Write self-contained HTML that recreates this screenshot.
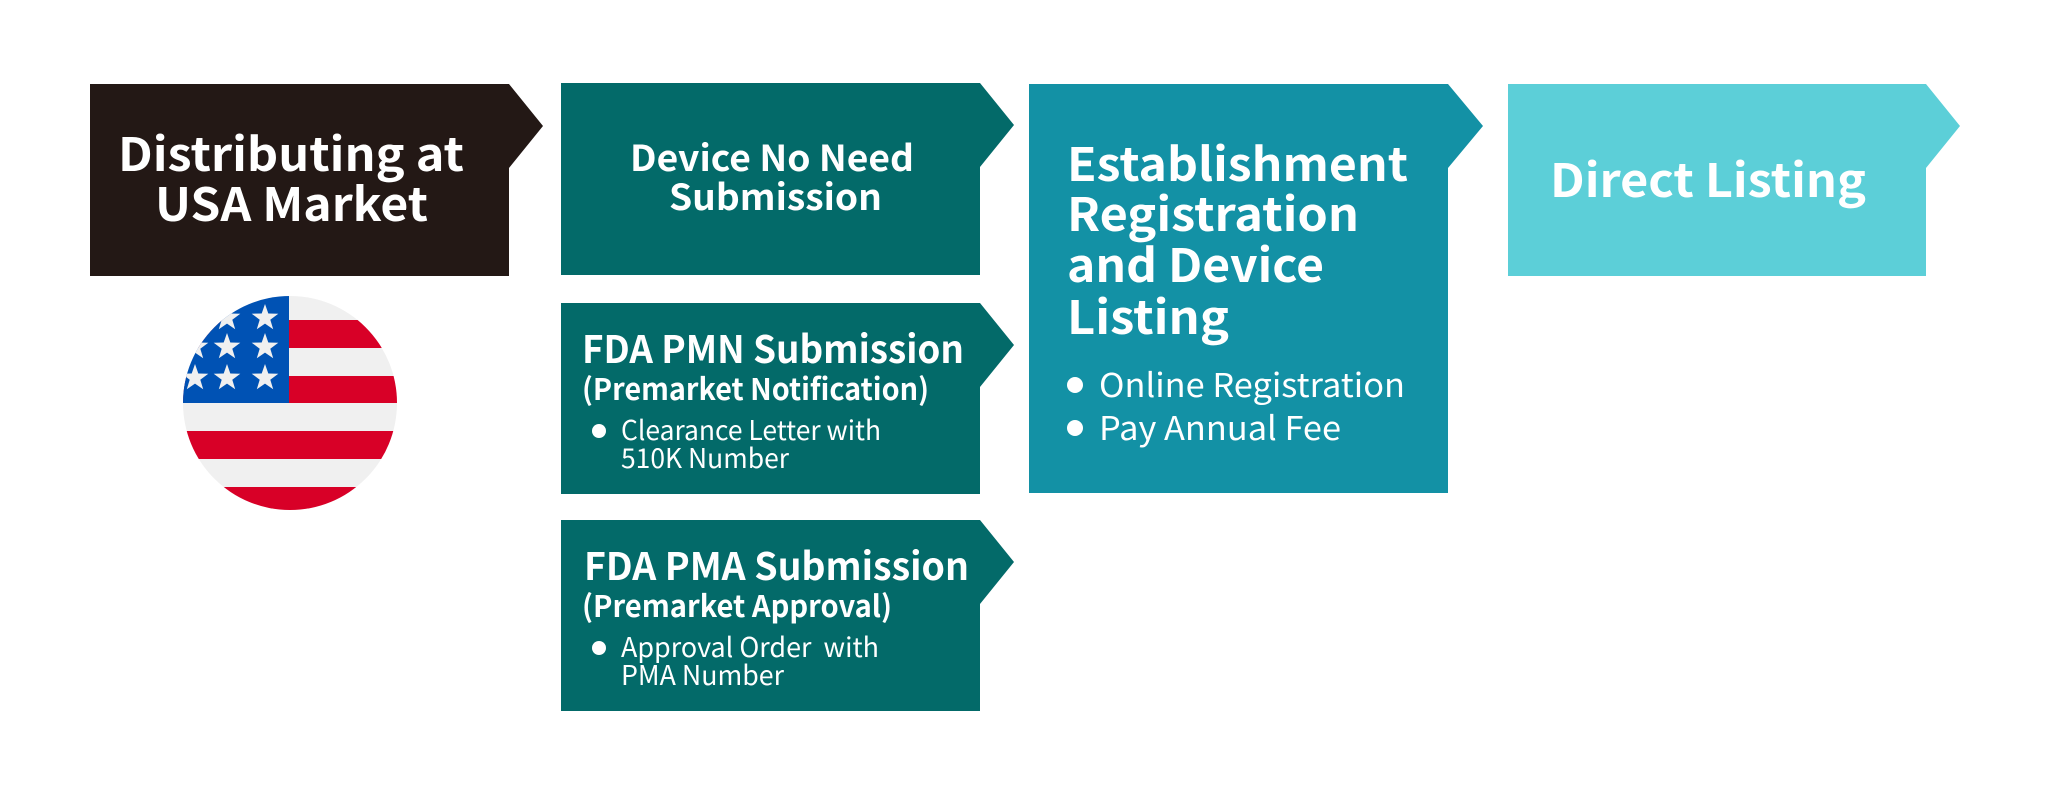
<!DOCTYPE html>
<html><head><meta charset="utf-8"><style>
html,body{margin:0;padding:0;background:#fff;}
svg{display:block;}
text{font-family:"Noto Sans CJK JP","Liberation Sans",sans-serif;fill:#fff;}
.b{font-weight:700;}
</style></head><body>
<svg width="2048" height="807" viewBox="0 0 2048 807" xmlns="http://www.w3.org/2000/svg">
<defs><clipPath id="c"><circle cx="290" cy="403" r="107"/></clipPath>
<polygon id="st" points="0,-14 3.3,-4.5 13.3,-4.3 5.3,1.7 8.2,11.3 0,5.6 -8.2,11.3 -5.3,1.7 -13.3,-4.3 -3.3,-4.5" fill="#f0f0f0"/></defs>
<polygon points="90,84 509,84 543,126 509,168 509,276 90,276" fill="#231815"/>
<polygon points="561,83 980,83 1014,125 980,167 980,275 561,275" fill="#036a69"/>
<polygon points="561,303 980,303 1014,345 980,387 980,494 561,494" fill="#036a69"/>
<polygon points="561,520 980,520 1014,562 980,604 980,711 561,711" fill="#036a69"/>
<polygon points="1029,84 1448,84 1483,126 1448,168 1448,493 1029,493" fill="#1391a5"/>
<polygon points="1508,84 1926,84 1960,126 1926,168 1926,276 1508,276" fill="#5ccfd8"/>
<g clip-path="url(#c)">
<rect x="180" y="290" width="230" height="230" fill="#f0f0f0"/>
<rect x="180" y="320" width="230" height="28" fill="#d80027"/>
<rect x="180" y="376" width="230" height="27" fill="#d80027"/>
<rect x="180" y="431" width="230" height="28" fill="#d80027"/>
<rect x="180" y="487" width="230" height="30" fill="#d80027"/>
<rect x="180" y="290" width="109" height="113" fill="#0052b4"/>
<use href="#st" x="265" y="318"/><use href="#st" x="227" y="318"/><use href="#st" x="195" y="318"/>
<use href="#st" x="265" y="347"/><use href="#st" x="227" y="347"/><use href="#st" x="195" y="347"/>
<use href="#st" x="265" y="378"/><use href="#st" x="227" y="378"/><use href="#st" x="195" y="378"/>
</g>
<text class="b" x="118" y="171" font-size="46" textLength="346" lengthAdjust="spacingAndGlyphs">Distributing at</text>
<text class="b" x="155" y="221" font-size="46" textLength="273" lengthAdjust="spacingAndGlyphs">USA Market</text>

<text class="b" x="630" y="171" font-size="36" textLength="284" lengthAdjust="spacingAndGlyphs">Device No Need</text>
<text class="b" x="669" y="210" font-size="36" textLength="213" lengthAdjust="spacingAndGlyphs">Submission</text>

<text class="b" x="582" y="363" font-size="38" textLength="382" lengthAdjust="spacingAndGlyphs">FDA PMN Submission</text>
<text class="b" x="582" y="400" font-size="30" textLength="347" lengthAdjust="spacingAndGlyphs">(Premarket Notification)</text>
<circle cx="599" cy="431" r="7" fill="#fff"/>
<text x="621" y="440" font-size="27" textLength="260" lengthAdjust="spacingAndGlyphs">Clearance Letter with</text>
<text x="621" y="468" font-size="27" textLength="168" lengthAdjust="spacingAndGlyphs">510K Number</text>

<text class="b" x="584" y="580" font-size="38" textLength="385" lengthAdjust="spacingAndGlyphs">FDA PMA Submission</text>
<text class="b" x="582" y="617" font-size="30" textLength="310" lengthAdjust="spacingAndGlyphs">(Premarket Approval)</text>
<circle cx="599" cy="648" r="7" fill="#fff"/>
<text x="621" y="657" font-size="27" textLength="258" lengthAdjust="spacingAndGlyphs" xml:space="preserve">Approval Order  with</text>
<text x="621" y="685" font-size="27" textLength="163" lengthAdjust="spacingAndGlyphs">PMA Number</text>

<text class="b" x="1067" y="181" font-size="46" textLength="341" lengthAdjust="spacingAndGlyphs">Establishment</text>
<text class="b" x="1067" y="231" font-size="46" textLength="292" lengthAdjust="spacingAndGlyphs">Registration</text>
<text class="b" x="1067" y="282" font-size="46" textLength="257" lengthAdjust="spacingAndGlyphs">and Device</text>
<text class="b" x="1067" y="334" font-size="46" textLength="162" lengthAdjust="spacingAndGlyphs">Listing</text>
<circle cx="1075" cy="385" r="8" fill="#fff"/>
<text x="1099" y="397" font-size="33" textLength="306" lengthAdjust="spacingAndGlyphs">Online Registration</text>
<circle cx="1075" cy="428" r="8" fill="#fff"/>
<text x="1099" y="440" font-size="33" textLength="242" lengthAdjust="spacingAndGlyphs">Pay Annual Fee</text>

<text class="b" x="1550" y="197" font-size="46" textLength="316" lengthAdjust="spacingAndGlyphs">Direct Listing</text>
</svg>
</body></html>
